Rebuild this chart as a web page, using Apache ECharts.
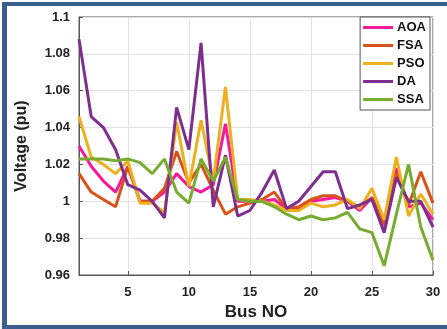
<!DOCTYPE html>
<html>
<head>
<meta charset="utf-8">
<script src="https://cdn.jsdelivr.net/npm/echarts@6/dist/echarts.min.js"></script>
<style>
html,body{margin:0;padding:0;background:#fff;}
#wrap{position:relative;width:447px;height:329px;overflow:hidden;background:#fff;}
#chart{position:absolute;left:0;top:0;width:447px;height:329px;}
#frame{position:absolute;left:2px;top:2px;width:470px;height:319px;border-top:4px solid #3a5f8f;border-left:5px solid #3a5f8f;border-bottom:4px solid #3a5f8f;pointer-events:none;}
</style>
</head>
<body>
<div id="wrap"><div id="chart"></div><div id="frame"></div></div>
<script>
const buses = [1,2,3,4,5,6,7,8,9,10,11,12,13,14,15,16,17,18,19,20,21,22,23,24,25,26,27,28,29,30];
const AOA = [1.030,1.019,1.011,1.005,1.019,1.000,1.000,1.005,1.015,1.008,1.005,1.009,1.042,1.000,1.000,1.000,1.001,0.996,0.996,1.000,1.001,1.002,1.000,0.995,1.002,0.987,1.018,0.997,0.999,0.990];
const FSA = [1.015,1.005,1.001,0.997,1.019,1.000,1.000,1.007,1.027,1.010,1.020,1.006,0.993,0.997,0.999,1.001,1.005,0.996,0.997,1.001,1.003,1.003,1.000,0.997,1.002,0.987,1.015,0.998,1.016,0.999];
const PSO = [1.046,1.024,1.020,1.015,1.022,0.999,0.999,0.994,1.043,1.008,1.044,1.011,1.062,1.001,1.001,1.000,0.998,0.995,0.995,0.999,0.997,0.998,1.001,0.996,1.007,0.990,1.024,0.992,1.004,0.993];
const DA  = [1.088,1.046,1.040,1.028,1.009,1.006,1.000,0.991,1.051,1.028,1.086,0.997,1.025,0.992,0.995,1.005,1.017,0.996,1.000,1.008,1.016,1.016,0.996,0.998,1.001,0.983,1.013,1.000,1.000,0.986];
const SSA = [1.023,1.023,1.023,1.022,1.023,1.021,1.015,1.023,1.005,0.999,1.023,1.011,1.024,1.001,1.000,1.000,0.997,0.993,0.990,0.992,0.990,0.991,0.994,0.985,0.983,0.965,0.993,1.020,0.986,0.968];
const seriesNames = ['AOA','FSA','PSO','DA','SSA'];
const seriesData = [AOA,FSA,PSO,DA,SSA];
const colors = ['#f7199b','#d95319','#edb120','#7e2f8e','#77ac30'];
const xTicks = [5,10,15,20,25,30];
const yTicks = [0.96,0.98,1.0,1.02,1.04,1.06,1.08,1.1];

const font = 'Liberation Sans, Arial, sans-serif';
const chart = echarts.init(document.getElementById('chart'), null, {renderer:'canvas'});
chart.setOption({
  animation:false,
  backgroundColor:'transparent',
  grid:{left:79,right:14,top:17,bottom:54,show:true,borderColor:'#555',borderWidth:1,backgroundColor:'#fff'},
  legend:{
    orient:'vertical',right:17,top:17,
    data:seriesNames.map(n=>({name:n,icon:'rect'})),
    itemWidth:30,itemHeight:3,itemGap:5,
    padding:[4,4,4,3],
    backgroundColor:'#fff',borderColor:'#555',borderWidth:1,
    textStyle:{fontFamily:font,fontWeight:'bold',fontSize:13,color:'#111',padding:[0,0,0,-1]}
  },
  xAxis:{
    type:'value',min:1,max:30,
    name:'Bus NO',nameLocation:'middle',nameGap:28,
    nameTextStyle:{fontFamily:font,fontWeight:'bold',fontSize:17,color:'#222'},
    axisLine:{lineStyle:{color:'#555',width:1}},
    axisTick:{inside:true,length:4,customValues:xTicks,lineStyle:{color:'#555'}},
    axisLabel:{customValues:xTicks,margin:11,fontFamily:font,fontWeight:'bold',fontSize:13,color:'#222'},
    splitLine:{show:true,lineStyle:{color:'#e2e2e2',width:1}}
  },
  yAxis:{
    type:'value',min:0.96,max:1.1,interval:0.02,
    name:'Voltage (pu)',nameLocation:'middle',nameGap:49,
    nameTextStyle:{fontFamily:font,fontWeight:'bold',fontSize:16,color:'#222'},
    axisLine:{show:true,lineStyle:{color:'#555',width:1}},
    axisTick:{show:true,inside:true,length:4,lineStyle:{color:'#555'}},
    axisLabel:{margin:9,fontFamily:font,fontWeight:'bold',fontSize:13,color:'#222',
      formatter:v=>String(parseFloat(v.toFixed(2)))},
    splitLine:{show:true,lineStyle:{color:'#e2e2e2',width:1}}
  },
  series:seriesNames.map((n,i)=>({
    name:n,type:'line',
    data:buses.map((b,j)=>[b,seriesData[i][j]]),
    showSymbol:false,symbol:'none',
    lineStyle:{color:colors[i],width:3},
    itemStyle:{color:colors[i]},
    z:2+i
  }))
});
</script>
</body>
</html>
